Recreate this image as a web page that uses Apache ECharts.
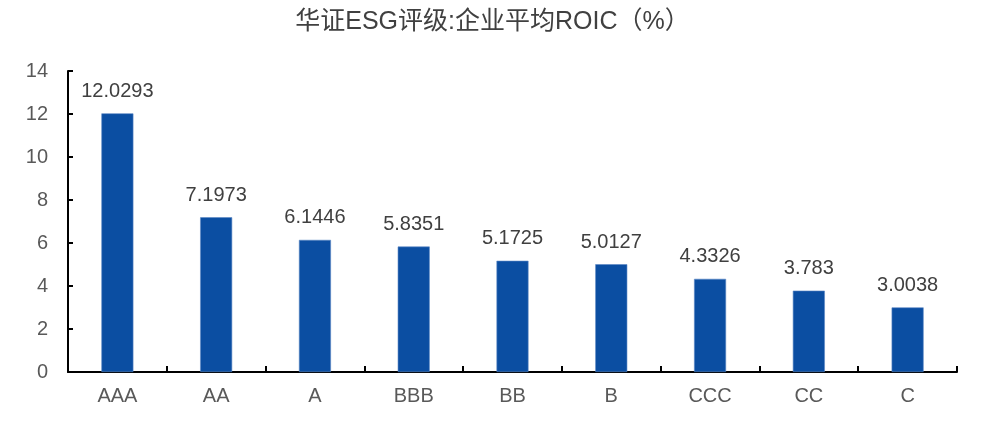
<!DOCTYPE html>
<html><head><meta charset="utf-8">
<script src="https://cdn.jsdelivr.net/npm/echarts@6/dist/echarts.min.js"></script>
<style>html,body{margin:0;padding:0;background:#fff}#c{width:985px;height:429px}</style>
</head><body><div id="c"></div>
<script>
const categories = ['AAA','AA','A','BBB','BB','B','CCC','CC','C'];
const roic = [12.0293, 7.1973, 6.1446, 5.8351, 5.1725, 5.0127, 4.3326, 3.783, 3.0038];
const yTicks = {min: 0, max: 14, interval: 2};
const titleText = '华证ESG评级:企业平均ROIC（%）';

const chart = echarts.init(document.getElementById('c'));
chart.setOption({
  animation: false,
  title: {text: titleText, left: 'center', top: 5,
    textStyle: {fontFamily: '"Liberation Sans", "Noto Sans CJK SC", Arial', fontSize: 25, fontWeight: 'normal', color: '#404040'}},
  grid: {left: 68, right: 28, top: 71, bottom: 57},
  xAxis: {type: 'category', data: categories,
    axisLine: {show: true, lineStyle: {color: '#000', width: 2}},
    axisTick: {show: true, inside: true, length: 6, alignWithLabel: false, lineStyle: {color: '#000', width: 2}},
    axisLabel: {fontFamily: 'Liberation Sans, Arial', fontSize: 20, color: '#595959', margin: 14}},
  yAxis: {type: 'value', min: yTicks.min, max: yTicks.max, interval: yTicks.interval,
    axisLine: {show: true, lineStyle: {color: '#000', width: 2}},
    axisTick: {show: true, inside: true, length: 5, lineStyle: {color: '#000', width: 2}},
    splitLine: {show: false},
    axisLabel: {fontFamily: 'Liberation Sans, Arial', fontSize: 20, color: '#595959', margin: 20}},
  series: [{type: 'bar', data: roic, barWidth: 32,
    itemStyle: {color: '#0B4EA2', borderColor: '#5A86C4', borderWidth: 0.6},
    label: {show: true, position: 'top', distance: 12,
      fontFamily: 'Liberation Sans, Arial', fontSize: 20, color: '#404040'}}]
});
</script></body></html>
